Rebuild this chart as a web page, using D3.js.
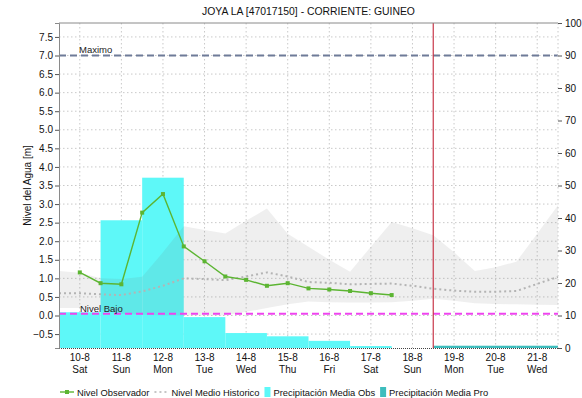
<!DOCTYPE html>
<html>
<head>
<meta charset="utf-8">
<script src="https://cdn.jsdelivr.net/npm/d3@7/dist/d3.min.js"></script>
<style>
  body { margin: 0; background: #fff; }
  svg { display: block; font-family: "Liberation Sans", Arial, sans-serif; }
</style>
</head>
<body>
<svg id="chart" width="582" height="398"></svg>
<script>
// ---- data ----
const title = "JOYA LA [47017150] - CORRIENTE: GUINEO";
const days = ["10-8", "11-8", "12-8", "13-8", "14-8", "15-8", "16-8", "17-8", "18-8", "19-8", "20-8", "21-8"];
const weekdays = ["Sat", "Sun", "Mon", "Tue", "Wed", "Thu", "Fri", "Sat", "Sun", "Mon", "Tue", "Wed"];

// observed water level (m), one reading every 12 h starting 10-8
const obsTime  = [0, 0.5, 1, 1.5, 2, 2.5, 3, 3.5, 4, 4.5, 5, 5.5, 6, 6.5, 7, 7.5];
const obsLevel = [1.16, 0.87, 0.84, 2.77, 3.27, 1.86, 1.46, 1.05, 0.96, 0.80, 0.87, 0.73, 0.70, 0.66, 0.60, 0.55];

// historical statistics (m), every 12 h across the whole window
const histTime = [-0.5, 0, 0.5, 1, 1.5, 2, 2.5, 3, 3.5, 4, 4.5, 5, 5.5, 6, 6.5, 7, 7.5, 8, 8.5, 9, 9.5, 10, 10.5, 11, 11.5];
const histMax  = [1.20, 1.15, 1.00, 0.98, 1.04, 1.70, 2.40, 2.30, 2.21, 2.55, 2.88, 2.20, 1.85, 1.50, 1.18, 1.85, 2.52, 2.35, 2.16, 1.70, 1.20, 1.30, 1.45, 2.20, 2.97];
const histMin  = [0.20, 0.20, 0.15, 0.05, 0.02, 0.00, 0.00, 0.00, 0.00, 0.10, 0.20, 0.30, 0.38, 0.36, 0.35, 0.35, 0.36, 0.40, 0.45, 0.40, 0.33, 0.31, 0.30, 0.29, 0.28];
const histMean = [0.60, 0.60, 0.57, 0.55, 0.65, 0.80, 1.00, 0.98, 0.95, 1.05, 1.16, 1.05, 0.90, 0.88, 0.84, 0.85, 0.86, 0.80, 0.72, 0.67, 0.64, 0.64, 0.66, 0.85, 1.04];

// daily mean precipitation (mm): observed and forecast
const precipObsDays = ["10-8", "11-8", "12-8", "13-8", "14-8", "15-8", "16-8", "17-8"];
const precipObs     = [11, 39.3, 52.4, 9.5, 4.6, 3.6, 2.2, 0.6];
const precipProDays = ["19-8", "20-8", "21-8"];
const precipPro     = [0.7, 0.7, 0.7];

// reference levels (m)
const nivelMaximo = 7.0;
const nivelBajo = 0.05;
const forecastStart = 8.5;   // day offset where the forecast begins

const levelTicks = d3.range(-0.5, 7.51, 0.5);
const precipTicks = d3.range(0, 101, 10);

// ---- layout ----
const svg = d3.select("#chart");
const m = { left: 59, right: 558, top: 23, bottom: 348 };

const xBand = d3.scaleBand().domain(days).range([m.left, m.right]).padding(0);
const xTime = d3.scaleLinear().domain([-0.5, days.length - 0.5]).range([m.left, m.right]);
const yLevel = d3.scaleLinear().domain([-0.875, 7.875]).range([m.bottom, m.top]);
const yPrecip = d3.scaleLinear().domain([0, 100]).range([m.bottom, m.top]);

const gridColor = "#c9c9c9";

// grid
const grid = svg.append("g");
grid.selectAll("line.h").data(levelTicks).join("line")
  .attr("x1", m.left).attr("x2", m.right)
  .attr("y1", d => yLevel(d)).attr("y2", d => yLevel(d))
  .attr("stroke", gridColor).attr("stroke-dasharray", "1.5,2.5");
grid.selectAll("line.v").data(days).join("line")
  .attr("x1", d => xBand(d) + xBand.bandwidth() / 2).attr("x2", d => xBand(d) + xBand.bandwidth() / 2)
  .attr("y1", m.top).attr("y2", m.bottom)
  .attr("stroke", gridColor).attr("stroke-dasharray", "1.5,2.5");

// precipitation bars
svg.append("g").selectAll("rect").data(precipObs).join("rect")
  .attr("x", (d, i) => xBand(precipObsDays[i]))
  .attr("width", xBand.bandwidth())
  .attr("y", d => yPrecip(d))
  .attr("height", d => yPrecip(0) - yPrecip(d))
  .attr("fill", "#5ef8f8");
svg.append("g").selectAll("rect").data(precipPro).join("rect")
  .attr("x", (d, i) => xBand(precipProDays[i]))
  .attr("width", xBand.bandwidth())
  .attr("y", d => yPrecip(d))
  .attr("height", d => yPrecip(0) - yPrecip(d))
  .attr("fill", "#3dbdbd");

// historical range band
const band = d3.area()
  .x((d, i) => xTime(histTime[i]))
  .y0((d, i) => yLevel(histMin[i]))
  .y1((d, i) => yLevel(histMax[i]));
svg.append("path").datum(histMax).attr("d", band)
  .attr("fill", "#707070").attr("fill-opacity", 0.11);

// historical mean
svg.append("path").datum(histMean)
  .attr("d", d3.line().x((d, i) => xTime(histTime[i])).y(d => yLevel(d)))
  .attr("fill", "none").attr("stroke", "#b4b4b4").attr("stroke-width", 2)
  .attr("stroke-dasharray", "2,3");

// reference levels
svg.append("line")
  .attr("x1", m.left).attr("x2", m.right)
  .attr("y1", yLevel(nivelMaximo)).attr("y2", yLevel(nivelMaximo))
  .attr("stroke", "#6e7b98").attr("stroke-width", 2).attr("stroke-dasharray", "7,4");
svg.append("text").attr("x", xBand(days[0]) + 20).attr("y", yLevel(nivelMaximo) - 2.5)
  .attr("font-size", 9.5).attr("fill", "#222").text("Maximo");

svg.append("line")
  .attr("x1", m.left).attr("x2", m.right)
  .attr("y1", yLevel(nivelBajo)).attr("y2", yLevel(nivelBajo))
  .attr("stroke", "#ee44ee").attr("stroke-width", 2).attr("stroke-dasharray", "7,4");
svg.append("text").attr("x", xBand(days[0]) + 21).attr("y", yLevel(nivelBajo) - 2)
  .attr("font-size", 9.5).attr("fill", "#222").text("Nivel Bajo");

// forecast start marker
svg.append("line")
  .attr("x1", xTime(forecastStart)).attr("x2", xTime(forecastStart))
  .attr("y1", m.top).attr("y2", m.bottom)
  .attr("stroke", "#c8384a").attr("stroke-width", 1.2);

// observed level
const obsColor = "#5cb532";
svg.append("path").datum(obsLevel)
  .attr("d", d3.line().x((d, i) => xTime(obsTime[i])).y(d => yLevel(d)))
  .attr("fill", "none").attr("stroke", obsColor).attr("stroke-width", 1.4);
svg.append("g").selectAll("rect").data(obsLevel).join("rect")
  .attr("x", (d, i) => xTime(obsTime[i]) - 2).attr("y", d => yLevel(d) - 2)
  .attr("width", 4).attr("height", 4)
  .attr("fill", obsColor);

// frame
svg.append("line").attr("x1", m.left).attr("x2", m.right).attr("y1", m.top).attr("y2", m.top)
  .attr("stroke", "#8a8a8a");
svg.append("line").attr("x1", m.right).attr("x2", m.right).attr("y1", m.top).attr("y2", m.bottom)
  .attr("stroke", "#c8c8c8").attr("stroke-dasharray", "1.5,2.5");
svg.append("line").attr("x1", m.left).attr("x2", m.right).attr("y1", m.bottom + 0.5).attr("y2", m.bottom + 0.5)
  .attr("stroke", "#444").attr("stroke-dasharray", "1,1");

// axes
const axisFont = 10;
const leftAxis = svg.append("g").attr("transform", `translate(${m.left},0)`)
  .call(d3.axisLeft(yLevel).tickValues(levelTicks).tickFormat(d3.format(".1f")).tickSize(4).tickPadding(2));
const rightAxis = svg.append("g").attr("transform", `translate(${m.right},0)`)
  .call(d3.axisRight(yPrecip).tickValues(precipTicks).tickSize(4).tickPadding(3));
[leftAxis, rightAxis].forEach(g => {
  g.select(".domain").attr("stroke", "#8a8a8a");
  g.selectAll(".tick line").attr("stroke", "#555");
  g.selectAll(".tick text").attr("font-size", axisFont).attr("fill", "#111")
    .attr("font-family", '"Liberation Sans", Arial, sans-serif');
});
rightAxis.select(".domain").remove();

// category labels (date + weekday)
const xl = svg.append("g");
xl.selectAll("text.d").data(days).join("text")
  .attr("x", d => xBand(d) + xBand.bandwidth() / 2).attr("y", m.bottom + 13)
  .attr("text-anchor", "middle").attr("font-size", axisFont).attr("fill", "#111").text(d => d);
xl.selectAll("text.w").data(weekdays).join("text")
  .attr("x", (d, i) => xBand(days[i]) + xBand.bandwidth() / 2).attr("y", m.bottom + 25)
  .attr("text-anchor", "middle").attr("font-size", axisFont).attr("fill", "#111").text(d => d);

// axis title
svg.append("text")
  .attr("transform", `translate(31,${(m.top + m.bottom) / 2}) rotate(-90)`)
  .attr("text-anchor", "middle").attr("font-size", axisFont).attr("fill", "#111")
  .text("Nivel del Agua [m]");

// title
svg.append("text").attr("x", (m.left + m.right) / 2).attr("y", 15)
  .attr("text-anchor", "middle").attr("font-size", 10.4).attr("fill", "#111").text(title);

// legend
const legend = svg.append("g").attr("transform", "translate(60,392)");
const items = [
  { label: "Nivel Observador", kind: "obs" },
  { label: "Nivel Medio Historico", kind: "mean" },
  { label: "Precipitación Media Obs", kind: "pobs" },
  { label: "Precipitación Media Pro", kind: "ppro" }
];
let lx = 0;
items.forEach(it => {
  const g = legend.append("g").attr("transform", `translate(${lx},0)`);
  let sw;
  if (it.kind === "obs") {
    g.append("line").attr("x1", 0).attr("x2", 14).attr("y1", 0).attr("y2", 0)
      .attr("stroke", obsColor).attr("stroke-width", 1.4);
    g.append("rect").attr("x", 5).attr("y", -2).attr("width", 4).attr("height", 4).attr("fill", obsColor);
    sw = 17;
  } else if (it.kind === "mean") {
    g.append("line").attr("x1", 0).attr("x2", 14).attr("y1", 0).attr("y2", 0)
      .attr("stroke", "#b4b4b4").attr("stroke-width", 1.5).attr("stroke-dasharray", "2,3");
    sw = 17;
  } else {
    g.append("rect").attr("x", 0).attr("y", -5).attr("width", 6).attr("height", 10)
      .attr("fill", it.kind === "pobs" ? "#5ef8f8" : "#3dbdbd");
    sw = 9;
  }
  const t = g.append("text").attr("x", sw).attr("y", 3.5).attr("font-size", 9.4).attr("fill", "#111").text(it.label);
  lx += sw + t.node().getComputedTextLength() + 5;
});
</script>
</body>
</html>
